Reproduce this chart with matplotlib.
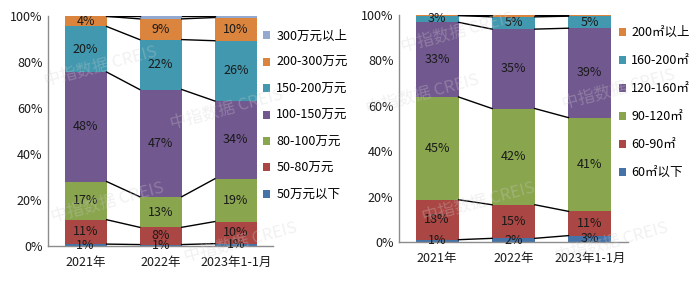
import matplotlib
matplotlib.use("Agg")
import matplotlib.pyplot as plt
import numpy as np

plt.rcParams['font.family'] = ['Noto Sans CJK SC', 'DejaVu Sans']

years = ["2021年", "2022年", "2023年1-1月"]

# 总价段 (bottom -> top)
price_names = ["50万元以下", "50-80万元", "80-100万元", "100-150万元",
               "150-200万元", "200-300万元", "300万元以上"]
price_2021 = [0.8, 10.6, 16.6, 47.6, 19.8, 4.4, 0.2]
price_2022 = [0.6, 7.5, 13.3, 46.6, 21.7, 9.0, 1.3]
price_2023 = [1.0, 9.6, 18.6, 33.8, 26.2, 10.1, 0.7]

# 面积段 (bottom -> top)
area_names = ["60㎡以下", "60-90㎡", "90-120㎡", "120-160㎡", "160-200㎡", "200㎡以上"]
area_2021 = [1.0, 17.6, 45.3, 32.9, 3.0, 0.2]
area_2022 = [1.6, 14.8, 42.4, 35.0, 5.4, 0.8]
area_2023 = [2.8, 10.7, 41.3, 39.4, 5.3, 0.5]

colors = ['#4572A7', '#AA4643', '#89A54E', '#71588F', '#4198AF', '#DB843D', '#93A9CF']

fig = plt.figure(figsize=(7, 2.84), dpi=100)
ax1 = fig.add_axes([0.0686, 0.134, 0.322, 0.810])
ax2 = fig.add_axes([0.570, 0.148, 0.327, 0.799])


def draw(ax, names, data, nolabel):
    vals = np.array(data).T  # series x years
    x = np.arange(len(years))
    w = 0.56
    bottom = np.zeros(len(years))
    handles = []
    for i, name in enumerate(names):
        b = ax.bar(x, vals[i], w, bottom=bottom, color=colors[i], label=name, zorder=2)
        handles.append(b)
        top = bottom + vals[i]
        # series lines
        for j in range(len(years) - 1):
            ax.plot([x[j] + w / 2, x[j + 1] - w / 2], [top[j], top[j + 1]],
                    color='black', lw=1, zorder=3)
        if i not in nolabel:
            for j in range(len(years)):
                ax.text(x[j], bottom[j] + vals[i][j] / 2, "%d%%" % round(vals[i][j]),
                        ha='center', va='center', fontsize=9, color='#1a1a1a', zorder=4)
        bottom = top
    ax.set_xlim(-0.5, 2.5)
    ax.set_ylim(0, 100)
    ax.set_yticks(range(0, 101, 20))
    ax.set_yticklabels(["%d%%" % v for v in range(0, 101, 20)])
    ax.set_xticks(x)
    ax.set_xticklabels(years)
    ax.tick_params(length=0, labelsize=9, colors='#1a1a1a', pad=4)
    ax.tick_params(axis='x', pad=7)
    for s in ['top', 'right']:
        ax.spines[s].set_visible(False)
    for s in ['left', 'bottom']:
        ax.spines[s].set_color('#8c8c8c')
        ax.spines[s].set_linewidth(1)
    return handles


h1 = draw(ax1, price_names, [price_2021, price_2022, price_2023], [6])
h2 = draw(ax2, area_names, [area_2021, area_2022, area_2023], [5])

fig.legend(h1[::-1], price_names[::-1], loc='upper left', bbox_to_anchor=(0.375, 0.895),
           frameon=False, fontsize=9, handlelength=0.6, handleheight=0.6,
           handletextpad=0.5, labelspacing=1.07, borderaxespad=0, borderpad=0)
fig.legend(h2[::-1], area_names[::-1], loc='upper left', bbox_to_anchor=(0.884, 0.908),
           frameon=False, fontsize=9, handlelength=0.6, handleheight=0.6,
           handletextpad=0.4, labelspacing=1.2, borderaxespad=0, borderpad=0)

# watermarks
for (wx, wy) in [(0.06, 0.70), (0.07, 0.22), (0.24, 0.55), (0.26, 0.08),
                 (0.57, 0.82), (0.52, 0.60), (0.60, 0.22), (0.80, 0.62), (0.79, 0.08)]:
    fig.text(wx, wy, "中指数据 CREIS", fontsize=12, color='#d0d0d0', alpha=0.3,
             rotation=15, zorder=10)

fig.savefig("out.png", dpi=100)
